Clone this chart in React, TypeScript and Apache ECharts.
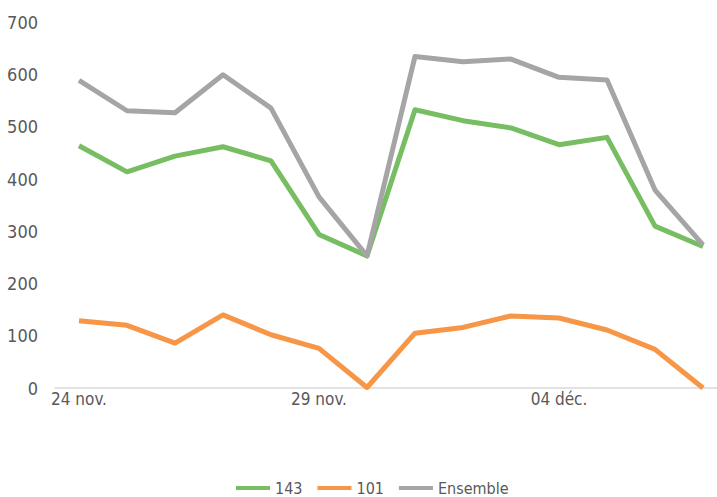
import React, { useEffect, useRef } from "react";
import * as echarts from "echarts";

const categories = [
  "24 nov.", "25 nov.", "26 nov.", "27 nov.", "28 nov.", "29 nov.", "30 nov.",
  "01 déc.", "02 déc.", "03 déc.", "04 déc.", "05 déc.", "06 déc.", "07 déc.",
];
const series143 = [464, 414, 444, 462, 435, 294, 253, 533, 512, 498, 466, 480, 310, 271];
const series101 = [129, 120, 86, 140, 102, 76, 1, 105, 116, 138, 134, 111, 74, 0];
const seriesEnsemble = [589, 531, 527, 600, 536, 366, 253, 635, 625, 630, 595, 590, 379, 274];
const yTicks = [0, 100, 200, 300, 400, 500, 600, 700];

const FONT = "'Liberation Sans Narrow', 'DejaVu Sans Condensed', 'Roboto', sans-serif";
const TEXT = "#595959";

export default function App() {
  const ref = useRef<HTMLDivElement>(null);
  useEffect(() => {
    if (!ref.current) return;
    const chart = echarts.init(ref.current, undefined, { renderer: "svg" });
    const mk = (name: string, data: number[], color: string) => ({
      name,
      type: "line",
      data,
      symbol: "none",
      lineStyle: { color, width: 5, join: "round" },
      itemStyle: { color },
    });
    chart.setOption({
      animation: false,
      textStyle: { fontFamily: FONT },
      grid: { left: 55, top: 22.5, bottom: 109, width: 672, containLabel: false },
      xAxis: {
        type: "category",
        data: categories,
        boundaryGap: true,
        axisLine: { lineStyle: { color: "#D9D9D9", width: 1.5 } },
        axisTick: { interval: 4, length: 6, lineStyle: { color: "#D9D9D9", width: 1.5 } },
        axisLabel: { interval: 4, color: TEXT, fontSize: 17, fontFamily: FONT, margin: 2 },
      },
      yAxis: {
        type: "value",
        min: yTicks[0],
        max: yTicks[yTicks.length - 1],
        interval: 100,
        axisLine: { show: false },
        axisTick: { show: false },
        splitLine: { show: false },
        axisLabel: { color: TEXT, fontSize: 18, fontFamily: FONT, margin: 17 },
      },
      legend: {
        bottom: -4,
        left: 231,
        itemWidth: 34,
        itemHeight: 4,
        itemGap: 15,
        icon: "rect",
        textStyle: { color: TEXT, fontSize: 16, fontFamily: FONT },
        data: ["143", "101", "Ensemble"],
      },
      series: [
        mk("143", series143, "#77BD62"),
        mk("101", series101, "#F79646"),
        mk("Ensemble", seriesEnsemble, "#A5A5A5"),
      ],
    });
    return () => chart.dispose();
  }, []);
  return (
    <div style={{ position: "fixed", left: 0, top: 0, width: 717, height: 497, overflow: "hidden", background: "#fff" }}>
      <div ref={ref} style={{ position: "absolute", left: 0, top: 0, width: 740, height: 497 }} />
    </div>
  );
}
